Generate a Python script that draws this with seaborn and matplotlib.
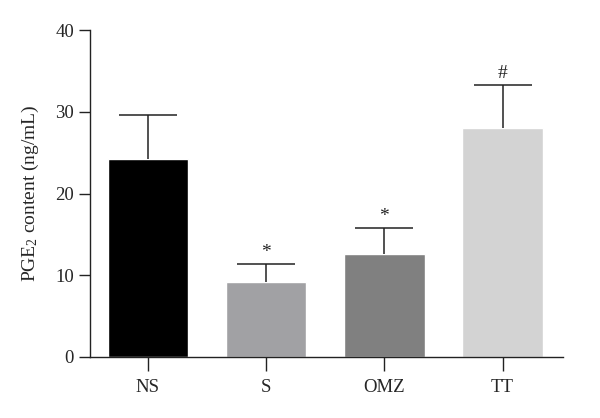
import pandas as pd
import matplotlib
matplotlib.use("Agg")
import matplotlib.pyplot as plt
import seaborn as sns

# data
groups = ["NS", "S", "OMZ", "TT"]
means = [24.2, 9.2, 12.6, 28.0]
sd_upper = [5.4, 2.2, 3.2, 5.3]
marks = ["", "*", "*", "#"]
bar_colors = ["#000000", "#a1a1a4", "#808080", "#d3d3d3"]

df = pd.DataFrame({"group": groups, "mean": means})

sns.set_style("ticks")
plt.rcParams['font.family'] = ['Liberation Serif', 'DejaVu Serif']
plt.rcParams['mathtext.fontset'] = 'custom'
plt.rcParams['mathtext.rm'] = 'Liberation Serif'
plt.rcParams['mathtext.it'] = 'Liberation Serif:italic'

fig = plt.figure(figsize=(6, 4.18), dpi=100)
ax = fig.add_axes([0.15, 0.146, 0.788, 0.782])

sns.barplot(data=df, x="group", y="mean", hue="group", palette=bar_colors,
            legend=False, width=0.68, errorbar=None, saturation=1, ax=ax)

# upper error bars only
eb = ax.errorbar(range(len(groups)), means, yerr=[[0] * len(groups), sd_upper],
                 fmt="none", ecolor="#222222", elinewidth=1.1, capsize=21, capthick=1.1)
eb[1][0].set_visible(False)  # hide the lower caps

for i, m in enumerate(marks):
    if m:
        ax.text(i, means[i] + sd_upper[i] + 0.4, m, ha="center", va="bottom",
                fontsize=14, color="#222222")

ax.set_ylim(0, 40)
ax.set_xlim(-0.49, 3.51)
ax.set_yticks([0, 10, 20, 30, 40])
ax.set_xlabel("")
ax.set_ylabel(r"PGE$_\mathrm{2}$ content (ng/mL)", fontsize=14, labelpad=10)
ax.tick_params(axis="both", labelsize=13.5, width=1, color="#222222")
ax.tick_params(axis="x", length=10, pad=6)
ax.tick_params(axis="y", length=8)
for s in ["top", "right"]:
    ax.spines[s].set_visible(False)
for s in ["left", "bottom"]:
    ax.spines[s].set_linewidth(1)
    ax.spines[s].set_color("#222222")

fig.savefig("out.png", dpi=100)
